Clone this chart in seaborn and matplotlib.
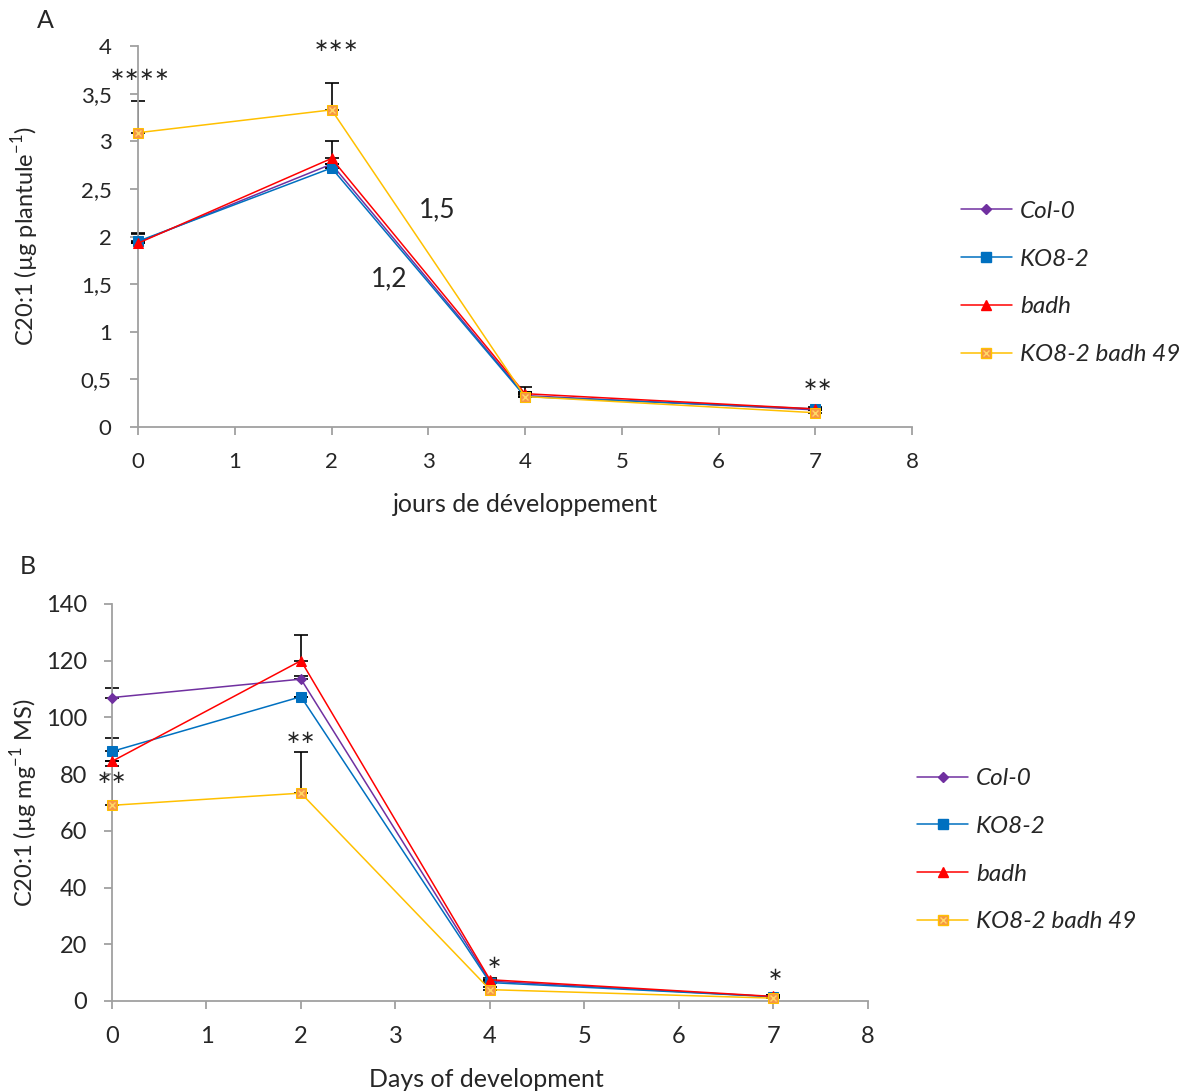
import matplotlib
matplotlib.use('Agg')
import matplotlib.pyplot as plt
import pandas as pd
import seaborn as sns
from matplotlib.lines import Line2D

# Data
days = [0, 2, 4, 7]
lines = ['Col-0', 'KO8-2', 'badh', 'KO8-2 badh 49']

# Panel A : ug per plantlet
col0_a = [1.94, 2.76, 0.33, 0.18]
ko82_a = [1.95, 2.72, 0.32, 0.19]
badh_a = [1.93, 2.82, 0.35, 0.19]
dbl_a = [3.09, 3.33, 0.32, 0.15]
err_a = {
    'Col-0': [0.10, 0.0, 0.09, 0.02],
    'KO8-2': [0.08, 0.0, 0.05, 0.02],
    'badh': [0.0, 0.18, 0.0, 0.0],
    'KO8-2 badh 49': [0.33, 0.28, 0.05, 0.03],
}

# Panel B : ug per mg dry matter
col0_b = [107.0, 113.5, 7.0, 1.5]
ko82_b = [88.0, 107.3, 6.5, 1.5]
badh_b = [84.5, 120.0, 7.5, 1.6]
dbl_b = [69.0, 73.3, 4.0, 1.0]
err_b = {
    'Col-0': [3.5, 1.0, 1.0, 0.5],
    'KO8-2': [4.7, 0.0, 0.8, 0.5],
    'badh': [0.0, 9.0, 0.0, 0.0],
    'KO8-2 badh 49': [14.0, 14.5, 1.0, 0.5],
}

stars_a = [(0.02, 3.70, '∗∗∗∗'), (2.05, 4.0, '∗∗∗'), (7.03, 0.44, '∗∗')]
stars_b = [(0.0, 78.6, '∗∗'), (2.0, 92.7, '∗∗'), (4.05, 13.4, '∗'), (7.02, 9.2, '∗')]
ratio_a = [(3.09, 2.28, '1,5'), (2.6, 1.56, '1,2')]

palette = {'Col-0': '#7030A0', 'KO8-2': '#0070C0', 'badh': '#FF0000',
           'KO8-2 badh 49': '#FFC000'}
markers = {'Col-0': 'D', 'KO8-2': 's', 'badh': '^', 'KO8-2 badh 49': 's'}
msize = {'Col-0': 5.5, 'KO8-2': 7, 'badh': 7, 'KO8-2 badh 49': 7}


def long_df(series):
    parts = []
    for name, vals in zip(lines, series):
        parts.append(pd.DataFrame({'day': days, 'value': vals, 'line': name}))
    return pd.concat(parts, ignore_index=True)


df_a = long_df([col0_a, ko82_a, badh_a, dbl_a])
df_b = long_df([col0_b, ko82_b, badh_b, dbl_b])

sns.set_style('white')
plt.rcParams['font.family'] = ['Lato', 'DejaVu Sans']
plt.rcParams['mathtext.fontset'] = 'custom'
plt.rcParams['mathtext.rm'] = 'Lato'
FS = 17
grey = '#A0A0A0'

fig = plt.figure(figsize=(11.86, 10.91), dpi=100)
ax_a = fig.add_axes([0.1164, 0.6086, 0.6526, 0.3492])
ax_b = fig.add_axes([0.0944, 0.0825, 0.6374, 0.3639])


def draw_panel(ax, df, errs, ymax, ystep, tick_fs, xpad, ypad):
    for name in lines:
        sub = df[df['line'] == name]
        lo = [0] * len(days)
        ax.errorbar(sub['day'], sub['value'], yerr=[lo, errs[name]], fmt='none',
                    ecolor='black', elinewidth=1.2, capsize=5, capthick=1.2, zorder=2)
    for name in lines:
        sub = df[df['line'] == name]
        sns.lineplot(data=sub, x='day', y='value', color=palette[name],
                     marker=markers[name], markersize=msize[name],
                     markeredgecolor=palette[name], linewidth=1.1, ax=ax,
                     zorder=3, legend=False)
    dbl = df[df['line'] == 'KO8-2 badh 49']
    ax.lines[-1].set_markerfacecolor('#F79646')
    ax.lines[-1].set_markeredgecolor('#FFC000')
    ax.plot(dbl['day'], dbl['value'], linestyle='none', marker='x',
            markersize=5, color='#FFD966', mew=1, zorder=4)
    ax.set_xlim(0, 8)
    ax.set_ylim(0, ymax)
    ax.set_xticks(range(0, 9))
    ax.set_yticks([i * ystep for i in range(int(round(ymax / ystep)) + 1)])
    for s in ['top', 'right']:
        ax.spines[s].set_visible(False)
    for s in ['left', 'bottom']:
        ax.spines[s].set_color(grey)
        ax.spines[s].set_linewidth(1.3)
    ax.tick_params(axis='both', direction='out', length=6, width=1.3,
                   color=grey, labelsize=tick_fs, left=True, bottom=True)
    ax.tick_params(axis='x', pad=xpad)
    ax.tick_params(axis='y', pad=ypad)
    for ln in ax.lines:
        ln.set_clip_on(False)

    handles = []
    for name in lines:
        h = Line2D([], [], color=palette[name], marker=markers[name],
                   markersize=msize[name], markeredgecolor=palette[name], linewidth=1.1)
        if name == 'KO8-2 badh 49':
            h.set_markerfacecolor('#F79646')
            h.set_markeredgecolor('#FFC000')
            hx = Line2D([], [], color='#FFD966', marker='x', markersize=5,
                        linestyle='none', mew=1)
            handles.append((h, hx))
        else:
            handles.append(h)
    return handles


leg_kw = dict(loc='center left', frameon=False, borderpad=0, borderaxespad=0,
              prop={'style': 'italic', 'size': 17.5},
              handlelength=2.1, labelspacing=1.1, handletextpad=0.33)

h_a = draw_panel(ax_a, df_a, err_a, 4, 0.5, 16, 12, 13)
ax_a.set_yticklabels(['0', '0,5', '1', '1,5', '2', '2,5', '3', '3,5', '4'])
ax_a.set_xlabel('jours de développement', fontsize=18, va='top')
ax_a.set_ylabel('C20:1 (µg plantule$^{-1}$)', fontsize=FS, va='bottom')
ax_a.xaxis.set_label_coords(0.5, -0.172)
ax_a.yaxis.set_label_coords(-0.125, 0.5)
for x, y, t in stars_a:
    ax_a.text(x, y, t, ha='center', va='center', fontsize=13, family='DejaVu Sans')
for x, y, t in ratio_a:
    ax_a.text(x, y, t, ha='center', va='center', fontsize=19)
ax_a.legend(h_a, lines, bbox_to_anchor=(1.063, 0.378), **leg_kw)

h_b = draw_panel(ax_b, df_b, err_b, 140, 20, 17, 12, 12)
ax_b.set_xlabel('Days of development', fontsize=18, va='top')
ax_b.set_ylabel('C20:1 (µg mg$^{-1}$ MS)', fontsize=FS, va='bottom')
ax_b.xaxis.set_label_coords(0.5 - 0.005, -0.168)
ax_b.yaxis.set_label_coords(-0.095, 0.5)
for x, y, t in stars_b:
    ax_b.text(x, y, t, ha='center', va='center', fontsize=13, family='DejaVu Sans')
ax_b.legend(h_b, lines, bbox_to_anchor=(1.065, 0.38), **leg_kw)

fig.text(45 / 1186, 1 - 20 / 1091, 'A', fontsize=18, ha='center', va='center')
fig.text(28 / 1186, 1 - 566 / 1091, 'B', fontsize=18, ha='center', va='center')

fig.savefig('out.png', dpi=100)
